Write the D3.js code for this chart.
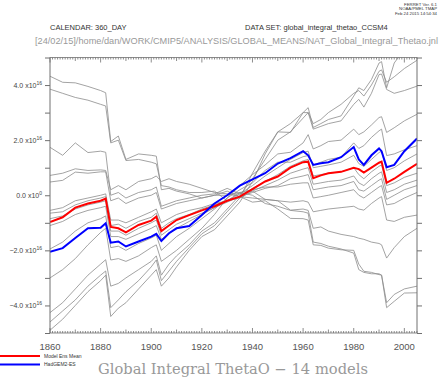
<!DOCTYPE html>
<html><head><meta charset="utf-8">
<script src="https://cdn.jsdelivr.net/npm/d3@7"></script>
<style>body{margin:0;background:#fff}svg{display:block}</style>
</head><body>
<svg id="c" width="441" height="377"></svg>
<script>
const years = [1860,1865,1870,1875,1880,1882,1884,1887,1890,1895,1900,1902,1904,1907,1910,1915,1920,1925,1930,1935,1940,1945,1950,1955,1960,1962,1964,1967,1970,1975,1980,1982,1984,1987,1990,1991,1993,1996,2000,2005];
// values in units of 1e16
const ensMean = [-0.97,-0.8,-0.45,-0.3,-0.2,-0.12,-1.15,-1.2,-1.35,-1.08,-0.92,-0.78,-1.3,-1.1,-0.9,-0.72,-0.55,-0.4,-0.2,-0.05,0.22,0.5,0.68,1.0,1.2,1.22,0.62,0.72,0.8,0.85,1.0,0.95,0.82,1.0,1.18,1.22,0.45,0.6,0.85,1.14];
const hadgem = [-2.05,-1.92,-1.55,-1.2,-1.18,-1.02,-1.72,-1.68,-1.86,-1.68,-1.5,-1.4,-1.66,-1.38,-1.2,-1.12,-0.72,-0.3,0.0,0.35,0.58,0.8,1.15,1.35,1.6,1.45,1.1,1.16,1.2,1.38,1.75,1.3,1.1,1.45,1.7,1.6,1.02,1.1,1.6,2.06];
const model01 = [4.32,4.1,4.08,3.95,3.8,3.72,1.95,2.15,1.3,1.5,1.45,1.42,0.2,0.25,0.15,0.05,-0.1,0.0,0.15,-0.05,-0.25,-0.2,-0.5,-0.84,-0.85,-0.9,-1.8,-1.82,-1.92,-1.98,-2.0,-2.5,-2.76,-2.8,-2.88,-2.9,-4.08,-3.85,-3.55,-3.54];
const model02 = [3.85,3.7,3.55,3.45,3.3,3.24,1.9,2.0,1.26,1.3,1.2,1.14,0.35,0.3,0.2,0.1,0.1,0.15,-0.2,0.1,0.0,-0.3,-0.4,-0.55,-0.6,-0.65,-1.7,-1.75,-1.85,-1.95,-2.1,-2.7,-2.8,-2.85,-2.85,-2.9,-3.9,-3.6,-3.4,-3.3];
const model03 = [1.74,1.45,1.9,1.55,1.6,1.56,0.0,0.1,-0.1,0.1,0.2,0.3,-0.4,-0.3,-0.2,-0.1,0.0,0.05,0.25,0.05,0.15,-0.15,-0.2,-0.54,-0.5,-0.55,-1.2,-1.15,-1.3,-1.42,-1.5,-1.56,-1.6,-1.7,-1.75,-1.8,-2.28,-1.9,-1.5,-1.2];
const model04 = [0.72,0.8,0.96,0.9,0.92,0.9,0.2,0.35,0.2,0.5,0.6,0.7,0.5,0.6,0.5,0.4,0.25,0.1,0.05,-0.05,-0.1,-0.15,-0.2,-0.25,-0.2,-0.25,-0.6,-0.55,-0.5,-0.45,-0.4,-0.5,-0.54,-0.3,-0.1,-0.05,-0.9,-0.95,-0.8,-0.72];
const model05 = [0.48,0.54,0.84,0.8,0.85,0.85,-0.2,-0.1,-0.3,-0.1,0.0,0.1,-0.5,-0.4,-0.3,-0.2,-0.1,0.0,0.0,0.1,0.2,0.3,0.3,0.4,0.45,0.45,-0.1,-0.05,0.0,0.1,0.2,0.0,-0.1,0.1,0.3,0.35,-0.35,-0.3,-0.1,0.1];
const model06 = [-0.55,-0.45,-0.2,-0.1,0.0,0.05,-0.9,-0.9,-1.0,-0.8,-0.6,-0.5,-1.0,-0.85,-0.7,-0.55,-0.45,-0.3,-0.2,-0.05,0.1,0.25,0.35,0.6,0.7,0.75,0.2,0.25,0.3,0.35,0.5,0.2,0.15,0.35,0.55,0.6,-0.15,0.0,0.2,0.35];
const model07 = [-0.65,-0.6,-0.35,-0.2,-0.1,-0.05,-1.1,-1.05,-1.2,-0.95,-0.8,-0.65,-1.2,-1.0,-0.85,-0.7,-0.5,-0.35,-0.2,-0.1,0.15,0.35,0.55,0.8,0.95,1.0,0.4,0.45,0.5,0.55,0.7,0.45,0.35,0.6,0.8,0.85,0.1,0.2,0.4,0.55];
const model08 = [-0.85,-0.75,-0.5,-0.35,-0.25,-0.2,-1.3,-1.3,-1.45,-1.2,-1.0,-0.9,-1.45,-1.25,-1.05,-0.85,-0.65,-0.45,-0.25,-0.05,0.25,0.5,0.75,1.05,1.25,1.3,0.7,0.75,0.8,0.85,1.0,0.75,0.6,0.85,1.05,1.1,0.35,0.45,0.65,0.8];
const model09 = [-1.1,-0.95,-0.7,-0.55,-0.45,-0.4,-1.5,-1.5,-1.6,-1.4,-1.2,-1.1,-1.6,-1.4,-1.2,-0.95,-0.7,-0.45,-0.2,0.05,0.35,0.7,1.0,1.3,1.55,1.6,1.0,1.05,1.1,1.2,1.45,1.15,1.05,1.3,1.55,1.6,0.9,1.0,1.25,1.5];
const model10 = [-1.95,-1.7,-1.3,-1.0,-0.85,-0.75,-1.9,-1.85,-2.0,-1.75,-1.55,-1.45,-2.0,-1.75,-1.5,-1.2,-0.85,-0.5,-0.1,0.2,0.45,0.9,1.2,1.2,1.4,1.44,1.1,1.2,1.3,1.38,1.9,1.7,1.8,2.1,2.34,2.4,1.44,1.5,1.65,1.8];
const model11 = [-3.0,-2.7,-2.3,-1.8,-1.35,-1.2,-2.35,-2.3,-2.4,-2.2,-1.9,-1.8,-2.4,-2.2,-2.0,-1.6,-1.2,-0.7,-0.1,0.35,0.75,1.1,1.5,1.56,1.9,2.2,1.68,1.8,1.95,2.0,2.4,2.2,2.3,2.55,2.82,2.85,2.28,2.45,2.7,2.94];
const model12 = [-4.26,-3.9,-3.4,-2.9,-2.5,-2.34,-3.3,-3.2,-3.0,-2.7,-2.4,-2.2,-2.9,-2.5,-2.2,-1.8,-1.3,-1.0,-0.5,0.0,0.6,1.3,2.0,2.3,2.8,3.0,2.4,2.5,2.6,2.7,3.3,3.48,3.2,3.7,4.38,4.4,3.84,3.7,3.8,3.96];
const model13 = [-4.6,-4.2,-3.8,-3.3,-2.9,-2.75,-4.08,-3.8,-3.5,-3.1,-2.6,-2.35,-3.1,-2.75,-2.4,-1.9,-1.4,-1.1,-0.6,-0.1,0.8,1.6,2.3,2.6,3.0,3.0,2.6,2.75,3.0,3.3,3.7,3.8,3.6,4.0,4.5,4.55,4.1,4.3,4.6,4.9];
const model14 = [-4.9,-4.5,-4.0,-3.5,-3.1,-2.9,-4.4,-4.1,-3.9,-3.4,-2.9,-2.7,-3.3,-3.0,-2.6,-2.0,-1.5,-1.25,-0.75,-0.25,0.5,1.5,2.3,2.28,3.0,3.18,2.46,2.6,2.75,2.88,3.6,3.9,3.8,4.2,4.8,4.85,3.9,4.8,5.3,5.8];
const greyModels = [model01,model02,model03,model04,model05,model06,model07,model08,model09,model10,model11,model12,model13,model14];
const yLabelValues = [4,2,0,-2,-4];
const yLabelExp = ["16","16","0","16","16"];
const xLabels = [1860,1880,1900,1920,1940,1960,1980,2000];
const legendNames = ["Model Ens Mean","HadGEM2-ES"];

const svg = d3.select("#c");
const L=50, R=417, T=57.5, B=333;
const x = d3.scaleLinear().domain([1860,2005]).range([L,R]);
const y = d3.scaleLinear().domain([-5e16,5e16]).range([B,T]);

svg.append("defs").append("clipPath").attr("id","clip")
  .append("rect").attr("x",L).attr("y",T).attr("width",R-L).attr("height",B-T);

const line = d3.line().x((d,i)=>x(years[i])).y(d=>y(d*1e16));
const g = svg.append("g").attr("clip-path","url(#clip)");
greyModels.forEach(m=>g.append("path").attr("d",line(m)).attr("fill","none").attr("stroke","#8c8c8c").attr("stroke-width",0.8));
g.append("path").attr("d",line(ensMean)).attr("fill","none").attr("stroke","#ff0000").attr("stroke-width",2);
g.append("path").attr("d",line(hadgem)).attr("fill","none").attr("stroke","#0000ff").attr("stroke-width",2);

// axes
const axCol="#707070";
const yt = d3.range(-5e16,5.01e16,1e16);
const la = svg.append("g").attr("transform",`translate(${L},0)`).call(d3.axisLeft(y).tickValues(yt).tickSize(5).tickFormat(""));
const ra = svg.append("g").attr("transform",`translate(${R},0)`).call(d3.axisRight(y).tickValues(yt).tickSize(5).tickFormat(""));
const yrsAll = d3.range(1860,2006,1);
function tickLen(v){return v%20===0?5:(v%10===0?3.5:2);}
const bt = svg.append("g").attr("transform",`translate(0,${B})`);
bt.append("line").attr("x1",L).attr("x2",R).attr("y1",0).attr("y2",0);
bt.selectAll("line.t").data(yrsAll).join("line").attr("class","t").attr("x1",d=>x(d)).attr("x2",d=>x(d)).attr("y1",0).attr("y2",d=>-tickLen(d));
const tt = svg.append("g").attr("transform",`translate(0,${T})`);
tt.append("line").attr("x1",L).attr("x2",R).attr("y1",0).attr("y2",0);
tt.selectAll("line.t").data(yrsAll).join("line").attr("class","t").attr("x1",d=>x(d)).attr("x2",d=>x(d)).attr("y1",0).attr("y2",d=>tickLen(d));
[la,ra].forEach(a=>{a.select(".domain").attr("stroke",axCol);a.selectAll(".tick line").attr("stroke",axCol);});
[bt,tt].forEach(a=>a.selectAll("line").attr("stroke",axCol).attr("stroke-width",0.8));
la.select(".domain").attr("d",`M0,${T}V${B}`);
ra.select(".domain").attr("d",`M0,${T}V${B}`);

// y labels
const yl = svg.append("g").attr("font-family","Liberation Sans, Arial, sans-serif").attr("fill","#444");
yLabelValues.forEach((v,i)=>{
  const t = yl.append("text").attr("x",42).attr("y",y(v*1e16)+2.5).attr("text-anchor","end").attr("font-size",7);
  t.append("tspan").text((v<0?"\u2212":"")+Math.abs(v).toFixed(1)+" x10");
  t.append("tspan").attr("dy",-3).attr("font-size",5).text(yLabelExp[i]);
});
// x labels
svg.append("g").selectAll("text").data(xLabels).join("text")
  .attr("x",d=>x(d)).attr("y",350).attr("text-anchor","middle")
  .attr("font-family","Liberation Sans, Arial, sans-serif").attr("font-size",9.5).attr("fill","#555").text(d=>d);

// header
const hf="Liberation Sans, Arial, sans-serif";
svg.append("text").attr("x",50).attr("y",30).attr("font-family",hf).attr("font-size",7.5).attr("fill","#333").text("CALENDAR: 360_DAY");
svg.append("text").attr("x",245).attr("y",30).attr("font-family",hf).attr("font-size",7.5).attr("fill","#333").text("DATA SET: global_integral_thetao_CCSM4");
svg.append("text").attr("x",35).attr("y",44).attr("font-family",hf).attr("font-size",9).attr("fill","#999")
  .attr("textLength",403).attr("lengthAdjust","spacingAndGlyphs")
  .text("[24/02/15]/home/dan/WORK/CMIP5/ANALYSIS/GLOBAL_MEANS/NAT_Global_Integral_Thetao.jnl");
const ferret = ["FERRET Ver. 6.1","NOAA/PMEL TMAP","Feb 24 2015 14:54:34"];
ferret.forEach((s,i)=>svg.append("text").attr("x",437).attr("y",5.5+i*4.5).attr("text-anchor","end")
  .attr("font-family",hf).attr("font-size",4.3).attr("fill","#333").text(s));

// legend
const legCols=["#ff0000","#0000ff"];
legendNames.forEach((n,i)=>{
  const yy = 356+i*8.5;
  svg.append("line").attr("x1",0).attr("x2",40).attr("y1",yy).attr("y2",yy).attr("stroke",legCols[i]).attr("stroke-width",2);
  svg.append("text").attr("x",44).attr("y",yy+1.8).attr("font-family",hf).attr("font-size",5).attr("fill","#333").text(n);
});
// title
svg.append("text").attr("x",98).attr("y",374).attr("font-family","DejaVu Serif, Liberation Serif, serif").attr("font-size",14)
  .attr("fill","#999").attr("textLength",270).attr("lengthAdjust","spacingAndGlyphs")
  .text("Global Integral ThetaO \u2212 14 models");
</script>
</body></html>
